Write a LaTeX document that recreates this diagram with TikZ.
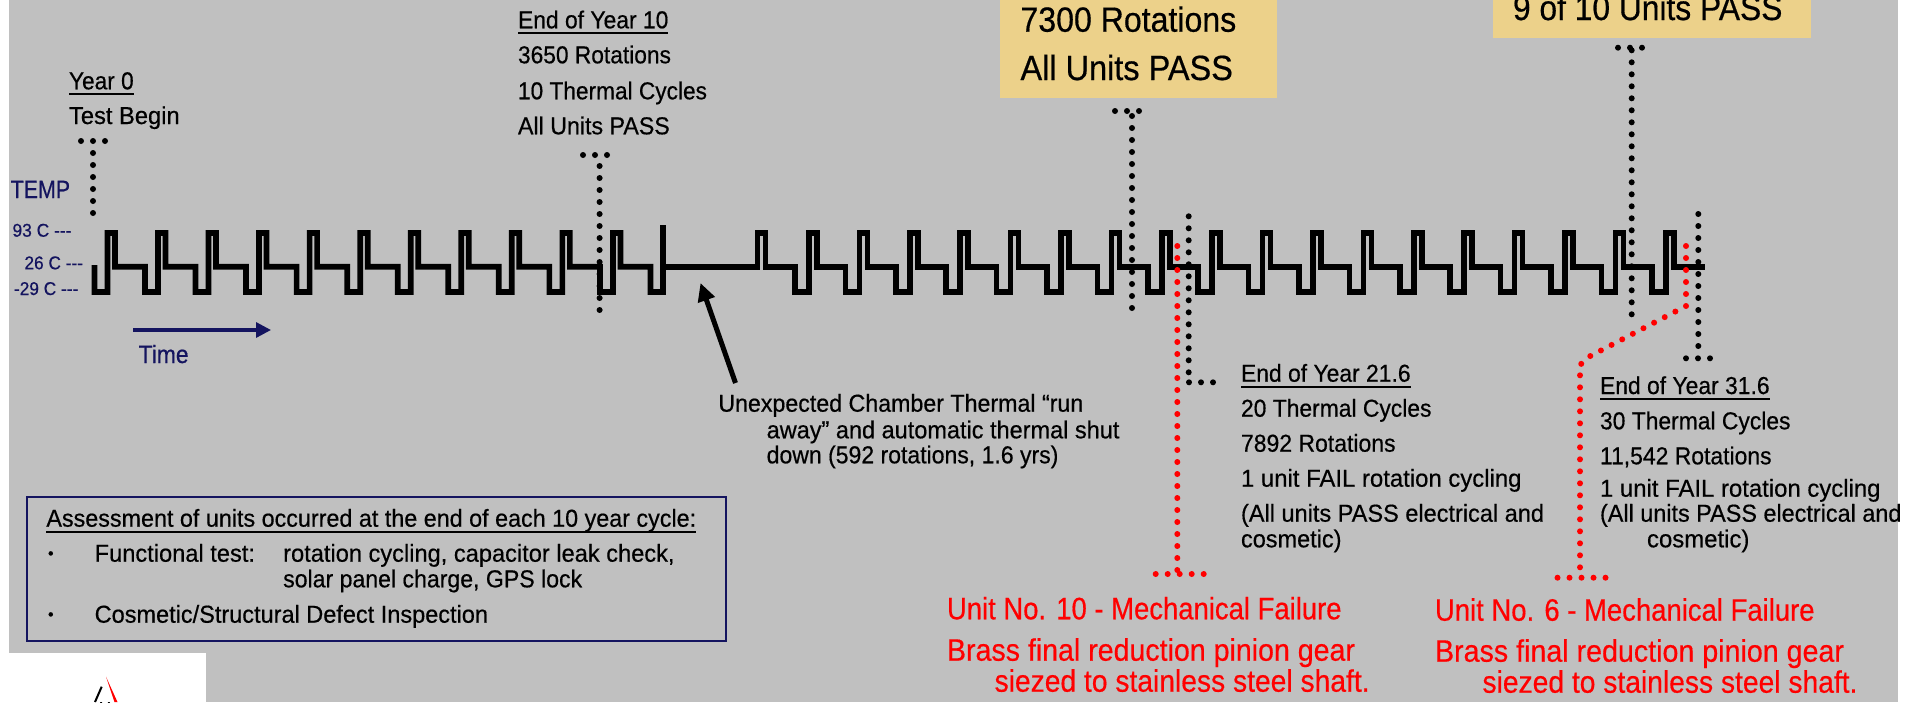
\documentclass[tikz,border=0pt]{standalone}
\usepackage{fontspec}
\usepackage{graphicx}
\usetikzlibrary{arrows.meta}
\setmainfont[FakeBold=0.5]{Liberation Sans}
\definecolor{bggray}{HTML}{C0C0C0}
\definecolor{goldbox}{HTML}{ECD18A}
\definecolor{navy}{HTML}{14145F}
\definecolor{redt}{HTML}{FF0000}
\newsavebox\ulbox
\newcommand\ult[1]{\sbox\ulbox{#1}\rlap{\rule[-5.8pt]{\wd\ulbox}{2pt}}\usebox\ulbox}
\newcommand\T[2]{\resizebox{#1pt}{\height}{#2}}
\tikzset{
  lbl/.style={anchor=base west,inner sep=0pt,outer sep=0pt,font=\fontsize{24.5}{28}\selectfont,text=black},
  big/.style={lbl,font=\fontsize{35}{40}\selectfont},
  redl/.style={lbl,font=\fontsize{31}{34}\selectfont,text=redt},
  navl/.style={lbl,font=\fontsize{25}{28}\selectfont,text=navy},
  tiny/.style={lbl,font=\fontsize{18.5}{22}\selectfont,text=navy},
  bul/.style={lbl,font=\fontsize{16}{20}\selectfont},
  wave/.style={draw=black,line width=5.7pt,miter limit=10},
  dotb/.style={draw=black,line width=6pt,line cap=round,dash pattern=on 0pt off 12pt},
  dotr/.style={draw=redt,line width=6pt,line cap=round,dash pattern=on 0pt off 12pt},
  bar/.style={draw=black,line width=6pt,line cap=round,dash pattern=on 0pt off 12pt},
}
\begin{document}
\begin{tikzpicture}[x=1pt,y=-1pt]
\clip (0,0) rectangle (1923,702);
\fill[white] (0,0) rectangle (1923,702);
\fill[bggray] (8.5,0) rectangle (1898,702);
\fill[white] (9,652.7) rectangle (206,702);
% logo
\fill[red] (106,676.7) -- (117.5,702) -- (114.5,702) -- cycle;
\draw[black,line width=2pt] (101.7,686.7) -- (95,702);
\fill[black] (100,702) arc[start angle=180,end angle=0,radius=5] -- cycle;
\fill[white] (102,702) arc[start angle=180,end angle=0,radius=3] -- cycle;
% gold boxes
\fill[goldbox] (1000,-5) rectangle (1276.5,97.7);
\fill[goldbox] (1493,-5) rectangle (1810.5,37.7);
% waveform
\draw[wave] (94.4,265) -- (94.4,292)
  \foreach \i [evaluate=\i as \x using 94.4+50.55*\i] in {0,...,10} {
    -- (\x,292) -- (\x+13,292) -- (\x+13,233) -- (\x+20.5,233) -- (\x+20.5,266.7) -- (\x+50.55,266.7)
  }
  -- (650.4,292) -- (663,292) -- (663,225);
\draw[wave] (663,266.7) -- (757.5,266.7) -- (757.5,233) -- (765.5,233) -- (765.5,266.7)
  \foreach \i [evaluate=\i as \x using 795+50.4*\i] in {0,...,17} {
    -- (\x,266.7) -- (\x,292) -- (\x+14,292) -- (\x+14,233) -- (\x+22,233) -- (\x+22,266.7)
  }
  -- (1705,266.7);
% named ends of the leaders
\coordinate (y0a) at (81,141);   \coordinate (y0b) at (105.5,141);
\coordinate (y0c) at (93,153);   \coordinate (y0d) at (93,213.5);
\coordinate (y10a) at (583,155); \coordinate (y10b) at (607.5,155);
\coordinate (y10c) at (599.6,166); \coordinate (y10d) at (599.6,310.5);
\coordinate (y20a) at (1115,111); \coordinate (y20b) at (1139.5,111);
\coordinate (y20c) at (1132,116); \coordinate (y20d) at (1132,308.5);
\coordinate (y30a) at (1618,47.7); \coordinate (y30b) at (1642.5,47.7);
\coordinate (y30c) at (1631.7,50.3); \coordinate (y30d) at (1631.7,314.8);
\coordinate (f1a) at (1188.7,216.3); \coordinate (f1b) at (1188.7,372.8);
\coordinate (f1c) at (1189,382.3); \coordinate (f1d) at (1214,382.3);
\coordinate (f2a) at (1698.3,214); \coordinate (f2b) at (1698.3,346.5);
\coordinate (f2c) at (1686,358.3); \coordinate (f2d) at (1710.5,358.3);
\coordinate (r1a) at (1177.3,246); \coordinate (r1b) at (1177.3,570.5);
\coordinate (r1c) at (1155.7,574); \coordinate (r1d) at (1204,574);
\coordinate (r2a) at (1686,246); \coordinate (r2b) at (1686,306);
\coordinate (r2c) at (1589,356.7); \coordinate (r2e) at (1580,365);
\coordinate (r2d) at (1580,570.5);
\coordinate (r2f) at (1557.5,577.7); \coordinate (r2g) at (1606,577.7);
\coordinate (ar1) at (735.5,383); \coordinate (ar2) at (700.5,283);
\coordinate (tm1) at (133,330); \coordinate (tm2) at (271,330);
% leaders
\draw[bar] (y0a) -- (y0b); \draw[dotb] (y0c) -- (y0d);
\draw[bar] (y10a) -- (y10b); \draw[dotb] (y10c) -- (y10d);
\draw[bar] (y20a) -- (y20b); \draw[dotb] (y20c) -- (y20d);
\draw[bar] (y30a) -- (y30b); \draw[dotb] (y30c) -- (y30d);
\draw[dotb] (f1a) -- (f1b); \draw[bar] (f1c) -- (f1d);
\draw[dotb] (f2a) -- (f2b); \draw[bar] (f2c) -- (f2d);
\draw[dotr] (r1a) -- (r1b); \draw[dotr] (r1c) -- (r1d);
\draw[dotr] (r2a) -- (r2b) -- (r2c) -- (r2e) -- (r2d); \draw[dotr] (r2f) -- (r2g);
% arrows
\draw[black,line width=5pt,-{Triangle[length=18pt,width=17pt]}] (ar1) -- (ar2);
\draw[navy,line width=3.2pt,-{Triangle[length=15pt,width=15pt]}] (tm1) -- (tm2);
% axis labels
\node[navl] (temp) at (10.7,198) {\T{59.4}{TEMP}};
\node[tiny] (t93) at (12.5,236.7) {\T{59}{93 C -{}-{}-}};
\node[tiny] (t26) at (24.5,269.3) {\T{58.5}{26 C -{}-{}-}};
\node[tiny] (t29) at (14,295) {\T{64.3}{-29 C -{}-{}-}};
\node[navl] (time) at (138.6,363) {\T{50}{Time}};
% year 0
\node[lbl] (a1) at (69,89.3) {\T{64.7}{\ult{Year 0}}};
\node[lbl] (a2) at (69,124) {\T{110.7}{Test Begin}};
% year 10
\node[lbl] (b1) at (518,28.3) {\T{150.4}{\ult{End of Year 10}}};
\node[lbl] (b2) at (518,63.3) {\T{153}{3650 Rotations}};
\node[lbl] (b3) at (518,99.3) {\T{189}{10 Thermal Cycles}};
\node[lbl] (b4) at (518,134.3) {\T{151.8}{All Units PASS}};
% gold text
\node[big] (c1) at (1020.5,31.7) {\T{215.8}{7300 Rotations}};
\node[big] (c2) at (1020.5,80) {\T{212.4}{All Units PASS}};
\node[big] (d1) at (1513,20) {\T{269.4}{9 of 10 Units PASS}};
% chamber
\node[lbl] (e1) at (718.3,411.7) {\T{365}{Unexpected Chamber Thermal “run}};
\node[lbl] (e2) at (766.7,438.3) {\T{352.7}{away” and automatic thermal shut}};
\node[lbl] (e3) at (766.7,463.3) {\T{291.7}{down (592 rotations, 1.6 yrs)}};
% 21.6
\node[lbl] (f1) at (1241,381.7) {\T{169.6}{\ult{End of Year 21.6}}};
\node[lbl] (f2) at (1241,416.7) {\T{190.5}{20 Thermal Cycles}};
\node[lbl] (f3) at (1241,451.7) {\T{154.6}{7892 Rotations}};
\node[lbl] (f4) at (1241,486.7) {\T{280.5}{1 unit FAIL rotation cycling}};
\node[lbl] (f5) at (1241,521.7) {\T{303}{(All units PASS electrical and}};
\node[lbl] (f6) at (1241,547.3) {\T{100.5}{cosmetic)}};
% 31.6
\node[lbl] (g1) at (1600,394) {\T{169.6}{\ult{End of Year 31.6}}};
\node[lbl] (g2) at (1600,429.3) {\T{190.5}{30 Thermal Cycles}};
\node[lbl] (g3) at (1600,464.3) {\T{171.6}{11,542 Rotations}};
\node[lbl] (g4) at (1600,496.7) {\T{280.5}{1 unit FAIL rotation cycling}};
\node[lbl] (g5) at (1600,521.7) {\T{301.4}{(All units PASS electrical and}};
\node[lbl] (g6) at (1647,547.3) {\T{102.4}{cosmetic)}};
% red text
\node[redl] (h1) at (947,619.3) {\T{394.6}{Unit No. 10 - Mechanical Failure}};
\node[redl] (h2) at (947,660.7) {\T{408}{Brass final reduction pinion gear}};
\node[redl] (h3) at (994.6,691.7) {\T{375}{siezed to stainless steel shaft.}};
\node[redl] (i1) at (1435,620.7) {\T{379.6}{Unit No. 6 - Mechanical Failure}};
\node[redl] (i2) at (1435,661.7) {\T{409}{Brass final reduction pinion gear}};
\node[redl] (i3) at (1482.5,692.7) {\T{375}{siezed to stainless steel shaft.}};
% assessment box
\draw[navy,line width=2pt] (27,497) rectangle (726,641);
\node[lbl] (j1) at (46.4,526.7) {\T{649.8}{\ult{Assessment of units occurred at the end of each 10 year cycle:}}};
\node[bul] (j2) at (48,558.7) {•};
\node[lbl] (j3) at (94.7,561.7) {\T{160.3}{Functional test:}};
\node[lbl] (j4) at (283.2,561.7) {\T{391.4}{rotation cycling, capacitor leak check,}};
\node[lbl] (j5) at (283.2,587.3) {\T{299}{solar panel charge, GPS lock}};
\node[bul] (j6) at (48,619.7) {•};
\node[lbl] (j7) at (94.7,622.7) {\T{393.3}{Cosmetic/Structural Defect Inspection}};
\end{tikzpicture}
\end{document}
